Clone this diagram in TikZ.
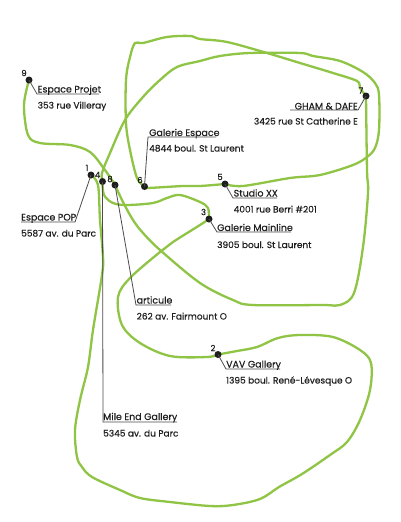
\documentclass[tikz,border=0pt]{standalone}
\usepackage{fontspec}
\setmainfont{Poppins}[FakeBold=0.25]
\definecolor{routegreen}{HTML}{8FC445}
\definecolor{inkdark}{HTML}{1E1E1E}
\tikzset{
  stopdot/.style={circle,fill=inkdark,inner sep=0pt,minimum size=7pt},
  num/.style={font=\fontsize{8.4}{8}\selectfont,text=inkdark,inner sep=0pt},
  route/.style={draw=routegreen,line width=2.3pt,line cap=round,line join=round},
  leader/.style={draw=inkdark!80,line width=0.8pt},
  lab/.style={font=\fontsize{9}{9}\selectfont,text=inkdark,inner sep=0pt,anchor=base west},
  labr/.style={lab,anchor=base east},
  ttl/.style={lab,font=\fontsize{9.45}{9}\selectfont},
  ttlr/.style={ttl,anchor=base east},
}
\begin{document}
\begin{tikzpicture}[x=1pt,y=-1pt]
\useasboundingbox (0,0) rectangle (400,522);
\fill[white] (0,0) rectangle (400,522);
% routes
\draw[route] plot[smooth,tension=0.55] coordinates {(91,175) (98,185) (100,220) (103,257) (102,275) (93,330) (88,367) (80,400) (75,430) (77,457) (82,467) (92,477) (120,490) (140,498) (170,502) (210,506) (233,505) (260,499) (279,487) (302,474) (330,455) (347,442) (360,420) (370,390) (371,363) (360,350) (333,337) (300,335) (278,338) (257,347) (237,351) (218,354.5)};
\draw[route] plot[smooth,tension=0.55] coordinates {(218,354.5) (207,357) (170,356) (140,343) (122,325) (118,297) (130,278) (160,252) (173,242) (200,225) (209,219)};
\draw[route] plot[smooth,tension=0.55] coordinates {(209,219) (208,208) (200,202) (180,195) (167,198) (153,203) (127,205) (113,203) (104,195) (102.5,181.5)};
\draw[route] plot[smooth,tension=0.55] coordinates {(102.5,181.5) (102,173) (110,153) (125,120) (143,97) (160,80) (177,67) (200,61) (220,56) (250,53) (300,53) (313,56) (340,61) (363,72) (375,83) (379,95) (379,130) (375,148) (367,157) (353,165) (320,175) (290,178) (243,186) (225,184)};
\draw[route] plot[smooth,tension=0.55] coordinates {(225,184) (200,186) (183,186) (147,188) (144.5,186.5)};
\draw[route] plot[smooth,tension=0.55] coordinates {(144.5,186.5) (137,178) (130,150) (126,123) (126,80) (130,57) (135,43) (143,43) (167,37) (190,36) (200,39) (227,42) (267,53) (300,63) (333,73) (357,81) (360,88) (366,96)};
\draw[route] plot[smooth,tension=0.55] coordinates {(366,96) (367,170) (368,193) (363,247) (354,293) (340,305) (323,305) (253,305) (233,300) (200,283) (160,250) (143,233) (133,220) (123,202) (115,185)};
\draw[route] plot[smooth,tension=0.55] coordinates {(115,185) (105,170) (90,152) (70,145) (40,143) (28,135) (24,105) (29,80)};
% stops
\node[stopdot] (d1) at (91,175) {};
\node[stopdot] (d2) at (218,354.5) {};
\node[stopdot] (d3) at (209,219) {};
\node[stopdot] (d4) at (102.5,181.5) {};
\node[stopdot] (d5) at (225,184) {};
\node[stopdot] (d6) at (144.5,186.5) {};
\node[stopdot] (d7) at (366,96) {};
\node[stopdot] (d8) at (115,185) {};
\node[stopdot] (d9) at (29,80) {};
% corner coordinates of leaders
\coordinate (k1) at (75,222); \coordinate (e1) at (21,222);
\coordinate (k2) at (226,369); \coordinate (e2) at (280,369);
\coordinate (k3) at (217,232); \coordinate (e3) at (291,232);
\coordinate (k4) at (103,422); \coordinate (e4) at (177,422);
\coordinate (k5) at (233,198); \coordinate (e5) at (277,198);
\coordinate (k6) at (148,137); \coordinate (e6) at (216,137);
\coordinate (k7) at (358,110); \coordinate (e7) at (290,110);
\coordinate (k8) at (136,305); \coordinate (e8) at (171,305);
\coordinate (k9) at (37,94); \coordinate (e9) at (99,94);
\draw[leader] (d1.center) -- (k1) -- (e1);
\draw[leader] (d2.center) -- (k2) -- (e2);
\draw[leader] (d3.center) -- (k3) -- (e3);
\draw[leader] (d4.center) -- (k4) -- (e4);
\draw[leader] (d5.center) -- (k5) -- (e5);
\draw[leader] (d6.center) -- (k6) -- (e6);
\draw[leader] (d7.center) -- (k7) -- (e7);
\draw[leader] (d8.center) -- (k8) -- (e8);
\draw[leader] (d9.center) -- (k9) -- (e9);
% numbers
\node[num] (n1) at (87,168) {1};
\node[num] (n2) at (213,348) {2};
\node[num] (n3) at (203.5,212) {3};
\node[num] (n4) at (97.5,175) {4};
\node[num] (n5) at (220,177) {5};
\node[num] (n6) at (140,180) {6};
\node[num] (n7) at (361,90.5) {7};
\node[num] (n8) at (110,179) {8};
\node[num] (n9) at (24,73) {9};
% labels
\node[ttl] (t1) at (21,220.5) {Espace POP};
\node[lab] (a1) at (21,236.5) {5587 av. du Parc};
\node[ttl] (t2) at (226,367.5) {VAV Gallery};
\node[lab] (a2) at (226,383.5) {1395 boul. René-Lévesque O};
\node[ttl] (t3) at (217,231) {Galerie Mainline};
\node[lab] (a3) at (217,248) {3905 boul. St Laurent};
\node[ttl] (t4) at (103,420) {Mile End Gallery};
\node[lab] (a4) at (103,436.5) {5345 av. du Parc};
\node[ttl] (t5) at (233.5,196.5) {Studio XX};
\node[lab] (a5) at (233.5,212.5) {4001 rue Berri \#201};
\node[ttl] (t6) at (149,136) {Galerie Espace};
\node[lab] (a6) at (149,151.5) {4844 boul. St Laurent};
\node[ttlr] (t7) at (358,109.5) {GHAM \& DAFE};
\node[labr] (a7) at (358,124.5) {3425 rue St Catherine E};
\node[ttl] (t8) at (136.5,303.5) {articule};
\node[lab] (a8) at (136.5,319.5) {262 av. Fairmount O};
\node[ttl] (t9) at (37.5,92.5) {Espace Projet};
\node[lab] (a9) at (37.5,108.5) {353 rue Villeray};
\end{tikzpicture}
\end{document}
